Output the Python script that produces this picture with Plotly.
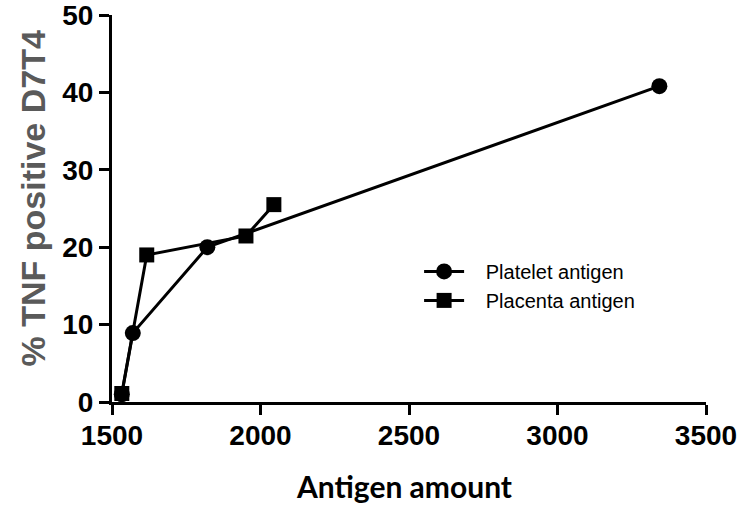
import plotly.graph_objects as go

# Data
platelet_x = [1533, 1570, 1821, 3343]
platelet_y = [1.0, 8.9, 20.0, 40.8]
placenta_x = [1533, 1617, 1951, 2045]
placenta_y = [1.1, 19.0, 21.45, 25.5]

x_ticks = [1500, 2000, 2500, 3000, 3500]
y_ticks = [0, 10, 20, 30, 40, 50]

series_names = ["Platelet antigen", "Placenta antigen"]
pad = "\u00a0\u00a0\u00a0"

fig = go.Figure()
fig.add_trace(go.Scatter(
    x=platelet_x, y=platelet_y, mode="lines+markers", name=pad + series_names[0],
    line=dict(color="black", width=3),
    marker=dict(symbol="circle", size=16, color="black"),
    cliponaxis=False,
))
fig.add_trace(go.Scatter(
    x=placenta_x, y=placenta_y, mode="lines+markers", name=pad + series_names[1],
    line=dict(color="black", width=3),
    marker=dict(symbol="square", size=15, color="black"),
    cliponaxis=False,
))

tickfont = dict(family="Liberation Sans, Arial", size=28, color="black", weight="bold")

fig.update_layout(
    width=739, height=506,
    margin=dict(l=112, r=33, t=15, b=104),
    paper_bgcolor="white", plot_bgcolor="white",
    showlegend=True,
    legend=dict(
        x=0.517, y=0.30, xanchor="left", yanchor="middle",
        font=dict(family="Liberation Sans, Arial", size=20, color="black"),
        bgcolor="rgba(0,0,0,0)", tracegroupgap=0, itemwidth=40,
    ),
    xaxis=dict(
        range=[1500, 3500], tickvals=x_ticks, ticktext=[str(v) for v in x_ticks],
        showgrid=False, zeroline=False, showline=True, linecolor="black", linewidth=3,
        ticks="outside", ticklen=10, tickwidth=3, tickcolor="black",
        tickfont=tickfont, automargin=False, ticklabeloverflow="allow",
        ticklabelstandoff=-4,
    ),
    yaxis=dict(
        range=[0, 50], tickvals=y_ticks, ticktext=[str(v) for v in y_ticks],
        showgrid=False, zeroline=False, showline=True, linecolor="black", linewidth=3,
        ticks="outside", ticklen=10, tickwidth=3, tickcolor="black",
        tickfont=tickfont, automargin=False, ticklabeloverflow="allow",
    ),
    annotations=[
        dict(
            text="Antigen amount", xref="paper", yref="paper", x=0.491, y=-0.217,
            xanchor="center", yanchor="middle", showarrow=False,
            font=dict(family="Lato, Open Sans", size=30, color="black", weight="bold"),
        ),
        dict(
            text="% TNF positive D7T4", xref="paper", yref="paper", x=-0.133, y=0.526,
            xanchor="center", yanchor="middle", showarrow=False, textangle=-90,
            font=dict(family="Liberation Sans, Arial", size=34, color="#5a5a5a", weight="bold"),
        ),
    ],
)

fig.write_html(
    "out.html",
    config={"displayModeBar": False},
    post_script="document.body.style.margin='0';document.body.style.overflow='hidden';",
)
